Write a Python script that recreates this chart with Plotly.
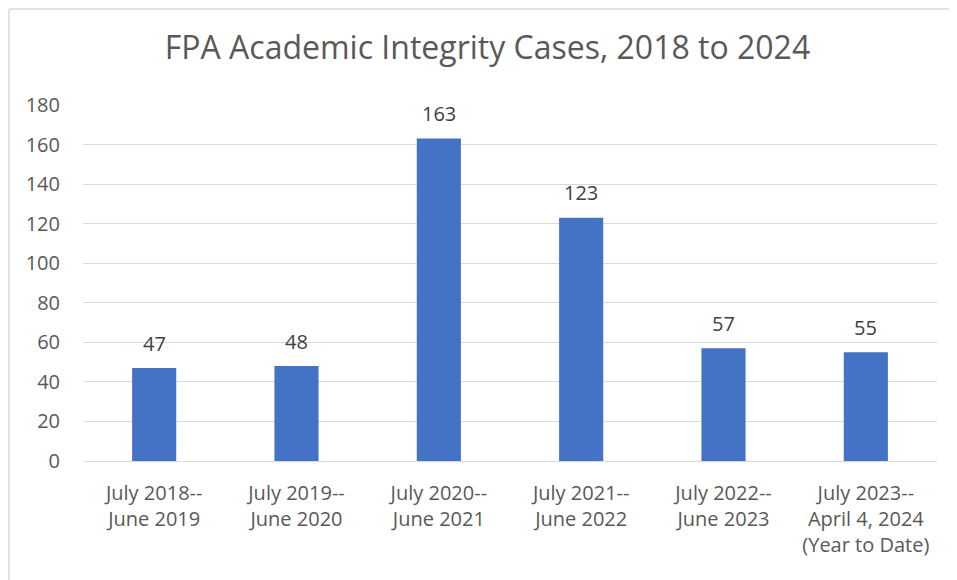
import plotly.graph_objects as go

categories = [
    "July 2018--<br>June 2019",
    "July 2019--<br>June 2020",
    "July 2020--<br>June 2021",
    "July 2021--<br>June 2022",
    "July 2022--<br>June 2023",
    "July 2023--<br>April 4, 2024<br>(Year to Date)",
]
cases = [47, 48, 163, 123, 57, 55]
y_ticks = [0, 20, 40, 60, 80, 100, 120, 140, 160, 180]

FONT = "Open Sans"
# page has an 8px body margin, so the figure is 8px smaller than the window
W, H = 949, 572
L, R, T, B = 75, 20, 97, 119
pw, ph = W - L - R, H - T - B

fig = go.Figure()
fig.add_trace(go.Bar(
    x=categories, y=cases,
    marker=dict(color="#4472c4", line=dict(width=0)),
    width=0.31,
    hoverinfo="x+y",
))
for c, v in zip(categories, cases):
    fig.add_annotation(x=c, y=v, text=str(v), showarrow=False,
                       yanchor="middle", yshift=25,
                       font=dict(family=FONT, size=20, color="#404040"))

# chart border (left & top visible)
bx = (1 - L) / pw
by = 1 + (T - 1) / ph
fig.add_shape(type="line", xref="paper", yref="paper", x0=bx, x1=bx, y0=-(B + 5) / ph, y1=by,
              line=dict(color="#d9d9d9", width=1.5))
fig.add_shape(type="line", xref="paper", yref="paper", x0=bx, x1=(W - L + 5) / pw, y0=by, y1=by,
              line=dict(color="#d9d9d9", width=1.5))

fig.update_layout(
    width=W, height=H,
    margin=dict(l=L, r=R, t=T, b=B),
    paper_bgcolor="white", plot_bgcolor="white",
    title=dict(text="FPA Academic Integrity Cases, 2018 to 2024",
               x=479.5 / W, xanchor="center", y=1 - 40 / H, yanchor="middle",
               font=dict(family=FONT, size=32, color="#595959")),
    showlegend=False,
    bargap=0.69,
    font=dict(family=FONT, color="#595959"),
)
fig.update_xaxes(showgrid=False, showline=True, linecolor="#d9d9d9", linewidth=1,
                 tickfont=dict(family=FONT, size=20, color="#595959"),
                 ticks="", ticklabelstandoff=14)
fig.update_yaxes(range=[0, 180], tickvals=y_ticks, showgrid=True, gridcolor="#d9d9d9",
                 gridwidth=1, zeroline=False, showline=False,
                 tickfont=dict(family=FONT, size=20, color="#595959"),
                 ticks="", ticklabelstandoff=22)

fig.write_html("out.html")
